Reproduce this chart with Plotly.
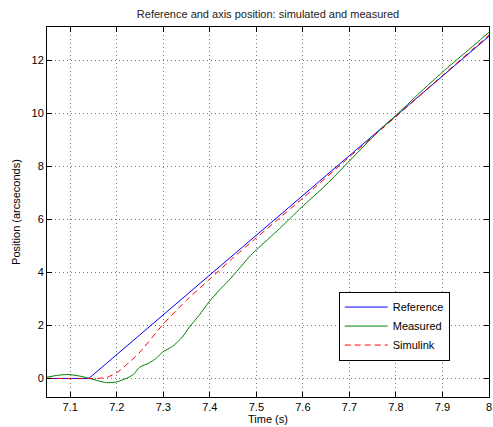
import plotly.graph_objects as go

# Reference trajectory
t_ref = [7.05, 7.14, 8.0]
pos_ref = [0.0, 0.0, 12.9]

# Measured axis position
t_meas = [7.05, 7.07, 7.095, 7.12, 7.142, 7.16, 7.178, 7.2, 7.22, 7.235, 7.249,
          7.27, 7.284, 7.299, 7.32, 7.341, 7.356, 7.377, 7.398, 7.42, 7.441,
          7.462, 7.484, 7.5, 7.55, 7.597, 7.65, 7.7, 7.77, 7.8, 7.85, 7.9, 7.95, 8.0]
pos_meas = [0.05, 0.11, 0.15, 0.09, 0.0, -0.09, -0.16, -0.13, 0.0, 0.14, 0.42,
            0.59, 0.75, 1.0, 1.21, 1.56, 1.94, 2.38, 2.88, 3.32, 3.7,
            4.12, 4.57, 4.85, 5.65, 6.45, 7.3, 8.2, 9.45, 9.92, 10.75, 11.55, 12.3, 13.05]

# Simulink simulation
t_sim = [7.05, 7.16, 7.18, 7.2, 7.225, 7.25, 7.3, 7.35, 7.4, 7.45, 7.5, 7.55,
         7.6, 7.7, 7.8, 7.9, 8.0]
pos_sim = [0.0, 0.0, 0.05, 0.22, 0.58, 1.0, 2.05, 2.95, 3.75, 4.55, 5.3, 6.05,
           6.8, 8.35, 9.87, 11.42, 12.95]

x_ticks = [7.1, 7.2, 7.3, 7.4, 7.5, 7.6, 7.7, 7.8, 7.9, 8.0]
x_labels = ["7.1", "7.2", "7.3", "7.4", "7.5", "7.6", "7.7", "7.8", "7.9", "8"]
y_ticks = [0, 2, 4, 6, 8, 10, 12]

fig = go.Figure()
fig.add_trace(go.Scatter(x=t_ref, y=pos_ref, mode="lines", name="Reference",
                         line=dict(color="#0000ff", width=1)))
fig.add_trace(go.Scatter(x=t_meas, y=pos_meas, mode="lines", name="Measured",
                         line=dict(color="#008000", width=1, shape="spline", smoothing=0.6)))
fig.add_trace(go.Scatter(x=t_sim, y=pos_sim, mode="lines", name="Simulink",
                         line=dict(color="#ff0000", width=1, dash="6px,4px", shape="spline", smoothing=0.6)))

axis_common = dict(
    showline=True, linecolor="black", linewidth=1, mirror="ticks",
    ticks="inside", ticklen=5, tickcolor="black",
    showgrid=True, gridcolor="#777777", griddash="1px,3px", gridwidth=1,
    zeroline=False, tickfont=dict(size=11, color="black"),
    ticklabeloverflow="allow",
)

fig.update_layout(
    width=493, height=427,
    margin=dict(l=47, r=1, t=27, b=30),
    paper_bgcolor="white", plot_bgcolor="white",
    font=dict(family="Liberation Sans, Arial, sans-serif", size=11, color="black"),
    title=dict(text="Reference and axis position: simulated and measured",
               x=0.5, xanchor="center", xref="paper", y=0.967, yanchor="middle",
               font=dict(size=11, color="#222222")),
    xaxis=dict(range=[7.05, 8.0], tickvals=x_ticks, ticktext=x_labels,
               title=dict(text="Time (s)", standoff=2, font=dict(size=11)), **axis_common),
    yaxis=dict(range=[-0.7, 13.25], tickvals=y_ticks,
               title=dict(text="Position (arcseconds)", standoff=8, font=dict(size=11)), **axis_common),
    legend=dict(x=0.66, y=0.285, xanchor="left", yanchor="top",
                bgcolor="white", bordercolor="black", borderwidth=1,
                font=dict(size=11), itemwidth=43, entrywidth=88, tracegroupgap=2),
    showlegend=True,
)

fig.write_html("out.html", config={"displayModeBar": False},
               post_script="document.body.style.margin='0';document.body.style.padding='0';"
                           "document.body.style.overflow='hidden';")
